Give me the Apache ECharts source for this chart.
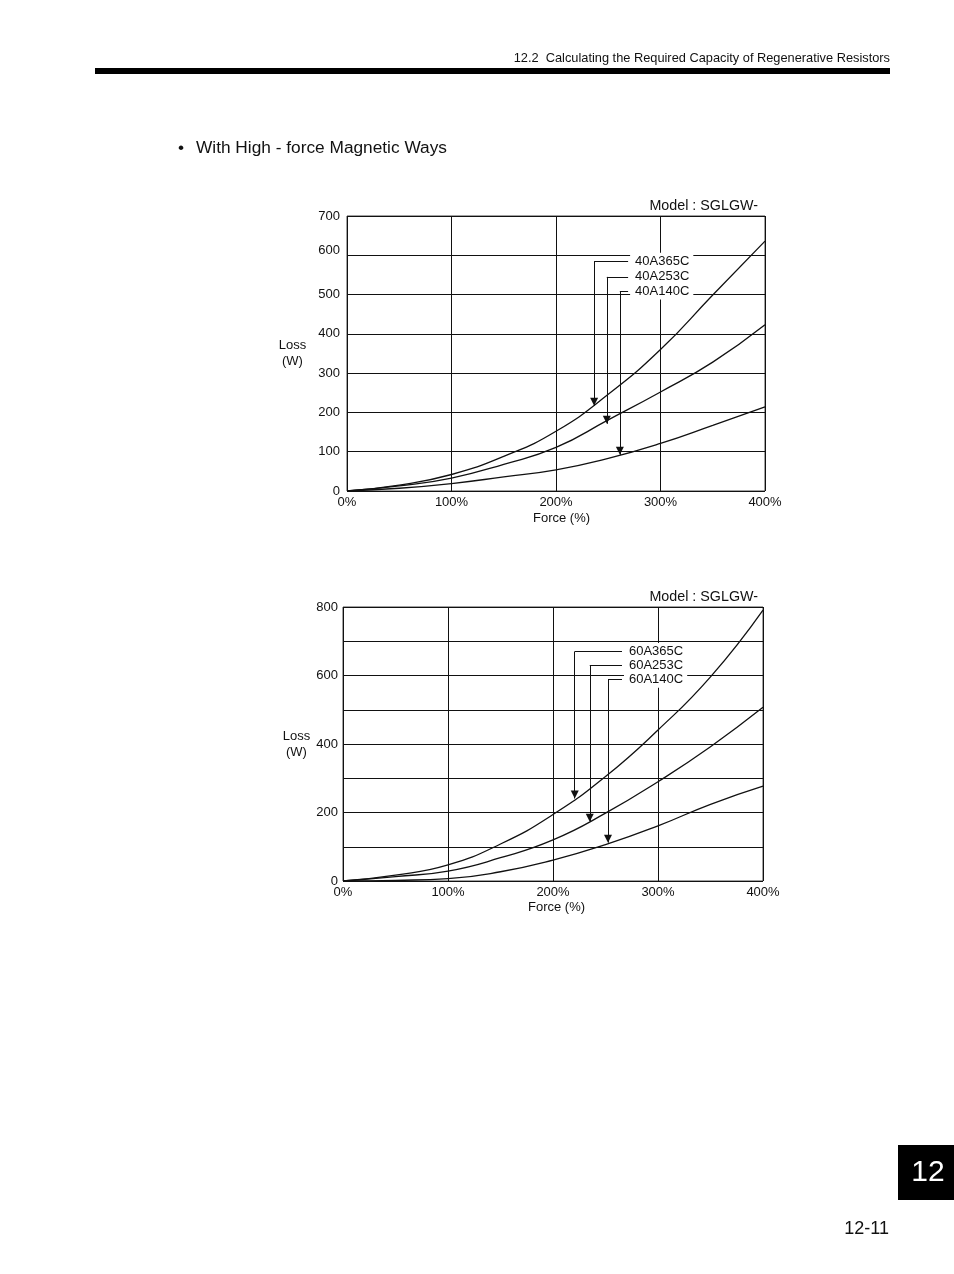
<!DOCTYPE html>
<html>
<head>
<meta charset="utf-8">
<style>
  html, body { margin: 0; padding: 0; background: #fff; }
  #page { width: 954px; height: 1274px; }
</style>
<script src="https://cdn.jsdelivr.net/npm/echarts@6/dist/echarts.min.js"></script>
</head>
<body>
<div id="page"></div>
<script>
// force axis (%), shared by both charts
let force = [0, 50, 100, 150, 200, 250, 300, 350, 400]

// loss (W)
let loss40A365C = [0, 15, 42, 88, 152, 246, 360, 499, 636]
let loss40A253C = [0, 13, 33, 68, 111, 181, 252, 328, 423]
let loss40A140C = [0, 7, 19, 36, 54, 83, 121, 167, 214]

// loss (W)
let loss60A365C = [0, 17, 47, 108, 194, 305, 441, 596, 791]
let loss60A253C = [0, 13, 29, 68, 120, 198, 290, 392, 507]
let loss60A140C = [0, 2, 7, 27, 61, 106, 161, 224, 277]

// callouts: [model, arrow force %, arrow loss W, leader loss W, leader end force %]
let callouts40 = [
    ['40A365C', 236.5, 217, 585, 269],
    ['40A253C', 248.6, 171, 545, 269],
    ['40A140C', 261.1, 92, 509, 269]
]
let callouts60 = [
    ['60A365C', 220.7, 241, 670, 265.7],
    ['60A253C', 235, 173, 629, 265.7],
    ['60A140C', 252.4, 112, 589, 265.7]
]

let font = '"Liberation Sans", Arial, sans-serif'
let ink = '#111'

function pairs(ys) {
    return force.map((f, i) => [f, ys[i]])
}

function curve(name, ys, gridIndex, callout) {
    let [label, tipX, tipY, leadY, leadX] = callout
    return {
        name: name,
        type: 'line',
        xAxisIndex: gridIndex,
        yAxisIndex: gridIndex,
        data: pairs(ys),
        smooth: 0.5,
        showSymbol: false,
        symbol: 'none',
        lineStyle: { color: ink, width: 1.3 },
        silent: true,
        animation: false,
        markLine: {
            silent: true,
            animation: false,
            symbol: ['none', 'none'],
            label: { show: false },
            lineStyle: { color: ink, width: 1, type: 'solid' },
            emphasis: { disabled: true },
            data: [
                [{ coord: [leadX, leadY], symbol: 'none' }, { coord: [tipX, leadY], symbol: 'none' }],
                [{ coord: [tipX, leadY], symbol: 'none' },
                 { coord: [tipX, tipY], symbol: 'triangle', symbolSize: [8, 8], symbolOffset: [0, 4] }]
            ]
        },
        markPoint: {
            silent: true,
            animation: false,
            symbol: 'circle',
            symbolSize: 0,
            data: [{ coord: [leadX, leadY], value: label }],
            label: {
                show: true,
                position: 'right',
                distance: 2,
                formatter: label,
                color: ink,
                fontFamily: font,
                fontSize: 13,
                backgroundColor: '#fff',
                padding: [2, 4, 2, 5]
            }
        }
    }
}

function xAxisFor(gridIndex, labelMargin, gap, shift) {
    return {
        gridIndex: gridIndex,
        type: 'value',
        min: 0,
        max: 400,
        interval: 100,
        name: 'Force (%)',
        nameLocation: 'middle',
        nameGap: gap,
        nameTextStyle: { color: ink, fontFamily: font, fontSize: 13, padding: [0, 0, 0, shift] },
        axisLine: { show: false },
        axisTick: { show: false },
        axisLabel: { color: ink, fontFamily: font, fontSize: 13, margin: labelMargin, formatter: '{value}%' },
        splitLine: { show: true, lineStyle: { color: ink, width: 1 } }
    }
}

function yAxisFor(gridIndex, max, labelMargin, gap, lift) {
    return {
        gridIndex: gridIndex,
        type: 'value',
        min: 0,
        max: max,
        interval: 100,
        name: 'Loss\n(W)',
        nameLocation: 'middle',
        nameRotate: 0,
        nameGap: gap,
        nameTextStyle: { color: ink, fontFamily: font, fontSize: 13, lineHeight: 16, align: 'center', padding: [0, 0, lift, 0] },
        axisLine: { show: false },
        axisTick: { show: false },
        axisLabel: {
            color: ink,
            fontFamily: font,
            fontSize: 13,
            margin: labelMargin,
            formatter: v => {
                if (max === 800) return v % 200 !== 0 ? '' : String(v)
                // the printed 600 sits a little above its grid line
                return v === 600 ? '{up|600}' : String(v)
            },
            rich: {
                up: { color: ink, fontFamily: font, fontSize: 13, padding: [0, 0, 10, 0] }
            }
        },
        splitLine: { show: true, lineStyle: { color: ink, width: 1 } }
    }
}

let chart = echarts.init(document.getElementById('page'), null, { renderer: 'canvas' })

let chartOpt = {
    backgroundColor: '#fff',
    animation: false,
    grid: [
        { left: 347, top: 216, width: 418, height: 275, show: true, borderColor: '#444', borderWidth: 1, backgroundColor: 'transparent' },
        { left: 343, top: 607, width: 420, height: 274, show: true, borderColor: '#444', borderWidth: 1, backgroundColor: 'transparent' }
    ],
    xAxis: [
        xAxisFor(0, 5, 21, 11),
        xAxisFor(1, 4.5, 19.5, 7)
    ],
    yAxis: [
        yAxisFor(0, 700, 7, 54.6, 15),
        yAxisFor(1, 800, 5, 46.6, 0)
    ],
    series: [
        curve('40A365C', loss40A365C, 0, callouts40[0]),
        curve('40A253C', loss40A253C, 0, callouts40[1]),
        curve('40A140C', loss40A140C, 0, callouts40[2]),
        curve('60A365C', loss60A365C, 1, callouts60[0]),
        curve('60A253C', loss60A253C, 1, callouts60[1]),
        curve('60A140C', loss60A140C, 1, callouts60[2])
    ],
    graphic: [
        {
            type: 'text', x: 890, y: 58.5,
            style: { text: '12.2  Calculating the Required Capacity of Regenerative Resistors', fill: ink, font: '12.8px ' + font, align: 'right', verticalAlign: 'middle' }
        },
        { type: 'rect', shape: { x: 95, y: 68, width: 795, height: 6 }, style: { fill: '#000' } },
        {
            type: 'text', x: 178, y: 148,
            style: { text: '\u2022', fill: ink, font: '17.3px ' + font, verticalAlign: 'middle' }
        },
        {
            type: 'text', x: 196, y: 148,
            style: { text: 'With High - force Magnetic Ways', fill: ink, font: '17.3px ' + font, verticalAlign: 'middle' }
        },
        {
            type: 'text', x: 758, y: 206,
            style: { text: 'Model : SGLGW-', fill: ink, font: '14.3px ' + font, align: 'right', verticalAlign: 'middle' }
        },
        {
            type: 'text', x: 758, y: 597,
            style: { text: 'Model : SGLGW-', fill: ink, font: '14.3px ' + font, align: 'right', verticalAlign: 'middle' }
        },
        { type: 'rect', shape: { x: 898, y: 1145, width: 56, height: 55 }, style: { fill: '#000' } },
        {
            type: 'text', x: 928, y: 1173,
            style: { text: '12', fill: '#fff', font: '30px ' + font, align: 'center', verticalAlign: 'middle' }
        },
        {
            type: 'text', x: 889, y: 1229,
            style: { text: '12-11', fill: ink, font: '18px ' + font, align: 'right', verticalAlign: 'middle' }
        }
    ]
}

chart.setOption(chartOpt)
</script>
</body>
</html>
